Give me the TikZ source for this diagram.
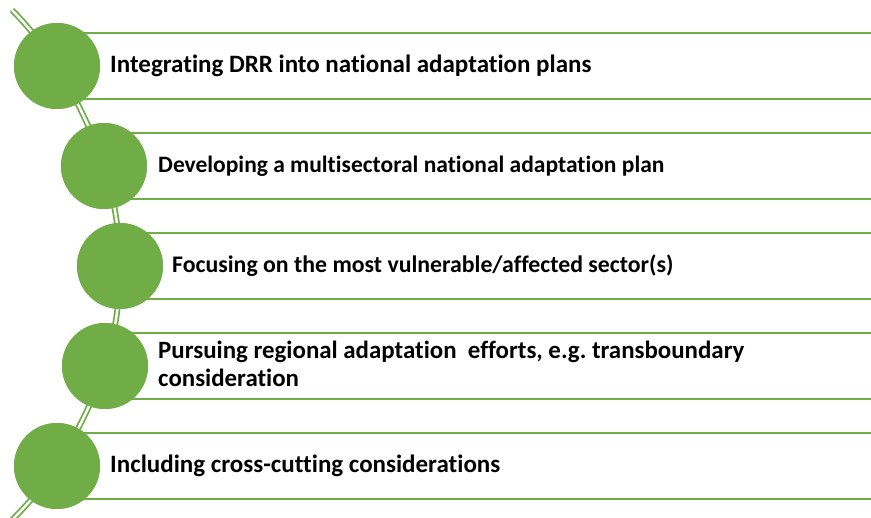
\documentclass[tikz,border=0pt]{standalone}
\usepackage{fontspec}
\setmainfont[Ligatures={NoCommon}]{Carlito}
\frenchspacing
\definecolor{leaf}{RGB}{112,173,71}
\tikzset{
  dot/.style={circle,fill=leaf,minimum size=86pt,inner sep=0pt},
  rule/.style={leaf,line width=2pt},
  spine/.style={leaf,line width=1.8pt,double=white,double distance=2.4pt},
  item/.style={anchor=west,inner sep=0pt,align=left,
    font=\bfseries\fontsize{#1}{28}\selectfont},
  item/.default=25
}
\begin{document}
\begin{tikzpicture}[x=1pt,y=-1pt]
  \useasboundingbox (0,0) rectangle (871,518);
  \coordinate (top) at (12,10);
  \coordinate (bot) at (8,524);
  \node[dot] (1) at (57,66) {};
  \node[dot] (2) at (104,166) {};
  \node[dot] (3) at (120,266) {};
  \node[dot] (4) at (105,366) {};
  \node[dot] (5) at (57,466) {};
  \draw[spine] plot[smooth,tension=0.6] coordinates
    {(top) (1.center) (2.center) (3.center) (4.center) (5.center) (bot)};
  \draw[rule] (57,33) -- (871,33) (57,99) -- (871,99);
  \draw[rule] (104,133) -- (871,133) (104,199) -- (871,199);
  \draw[rule] (120,233) -- (871,233) (120,299) -- (871,299);
  \draw[rule] (105,333) -- (871,333) (105,399) -- (871,399);
  \draw[rule] (57,433) -- (871,433) (57,499) -- (871,499);
  \node[dot] at (1) {};
  \node[dot] at (2) {};
  \node[dot] at (3) {};
  \node[dot] at (4) {};
  \node[dot] at (5) {};
  \node[item] (t1) at (110,66) {Integrating DRR into national adaptation plans};
  \node[item=23.5] (t2) at (158,166) {Developing a multisectoral national adaptation plan};
  \node[item=23.8] (t3) at (172,266) {Focusing on the most vulnerable/affected sector(s)};
  \node[item=24.9] (t4) at (158,364) {Pursuing regional adaptation\ \ efforts, e.g. transboundary\\consideration};
  \node[item] (t5) at (110,466) {Including cross-cutting considerations};
\end{tikzpicture}
\end{document}
